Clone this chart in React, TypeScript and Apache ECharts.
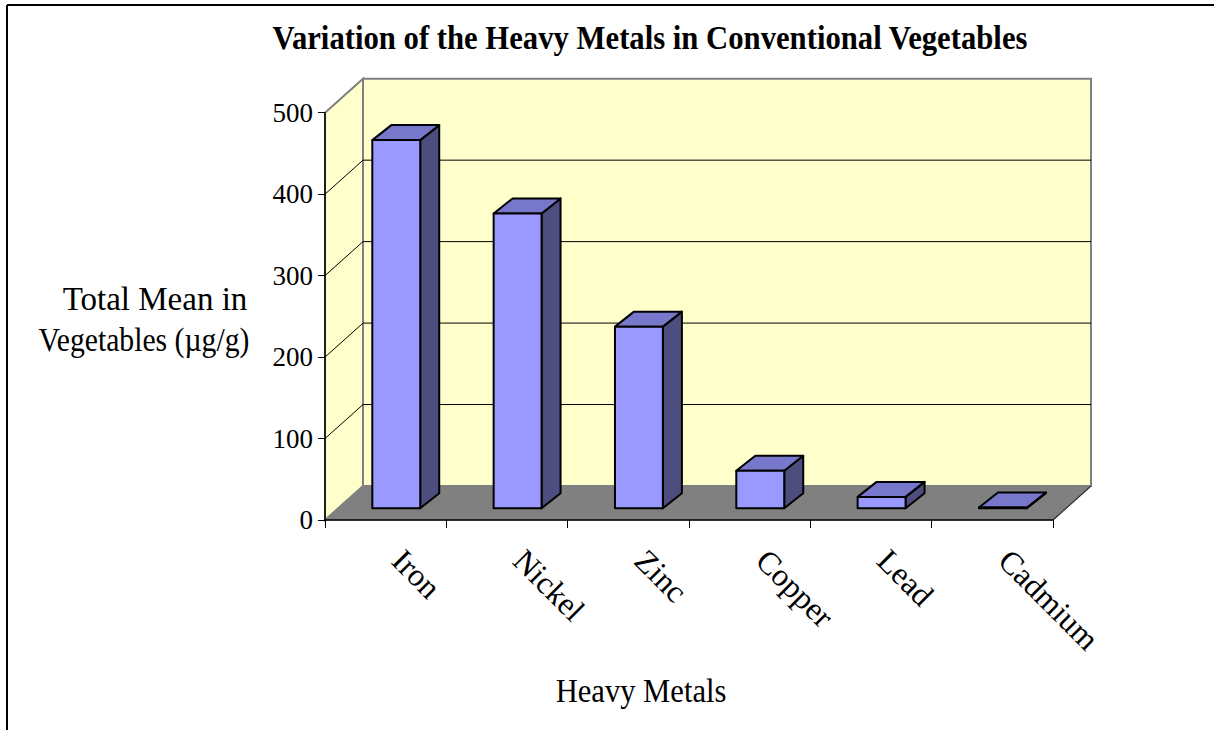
import React, { useEffect, useRef } from "react";
import * as echarts from "echarts";

const TITLE = "Variation of the Heavy Metals in Conventional Vegetables";
const Y_TITLE_1 = "Total Mean in";
const Y_TITLE_2 = "Vegetables (µg/g)";
const X_TITLE = "Heavy Metals";

const categories = ["Iron", "Nickel", "Zinc", "Copper", "Lead", "Cadmium"];
const values = [452, 362, 223, 46, 14, 1];
const yMin = 0;
const yMax = 500;
const yInterval = 100;
const gridValues = [100, 200, 300, 400];

// 3D styling constants (pixels)
const DEPTH = [38, -34];
const FRONT_OFFSET = [10.6, -11.7];
const BAR_DEPTH = [19, -15];
const BAR_WIDTH_RATIO = 0.395;

const FONT = "'Liberation Serif', 'Times New Roman', serif";

export default function App() {
  const ref = useRef<HTMLDivElement>(null);
  useEffect(() => {
    if (!ref.current) return;
    const chart = echarts.init(ref.current, null, { renderer: "svg" });

    const wallsRender = (params: any, api: any) => {
      const cs = params.coordSys;
      const left = cs.x;
      const right = cs.x + cs.width;
      const top = cs.y;
      const bottom = cs.y + cs.height;
      const dx = DEPTH[0];
      const dy = DEPTH[1];
      const children: any[] = [];
      children.push({
        type: "rect",
        shape: { x: left + dx, y: top + dy, width: right - left, height: bottom - top },
        style: { fill: "#FFFFCC", stroke: "#808080", lineWidth: 2 },
      });
      children.push({
        type: "polygon",
        shape: {
          points: [
            [left, top],
            [left + dx, top + dy],
            [left + dx, bottom + dy],
            [left, bottom],
          ],
        },
        style: { fill: "#FFFFCC", stroke: "#808080", lineWidth: 2 },
      });
      gridValues.forEach((v) => {
        const y = api.coord([0, v])[1];
        children.push({
          type: "polyline",
          shape: { points: [[left, y], [left + dx, y + dy], [right + dx, y + dy]] },
          style: { stroke: "#000", lineWidth: 1, fill: null },
        });
      });
      children.push({
        type: "polygon",
        shape: {
          points: [
            [left, bottom],
            [right, bottom],
            [right + dx, bottom + dy],
            [left + dx, bottom + dy],
          ],
        },
        style: { fill: "#808080", stroke: "#808080", lineWidth: 1 },
      });
      children.push({
        type: "line",
        shape: { x1: right, y1: bottom, x2: right + dx, y2: bottom + dy },
        style: { stroke: "#333", lineWidth: 1.2 },
      });
      return { type: "group", children };
    };

    const barRender = (params: any, api: any) => {
      const i = api.value(0);
      const v = api.value(1);
      const topPt = api.coord([i, v]);
      const basePt = api.coord([i, 0]);
      const cw = api.size([1, 0])[0];
      const w = cw * BAR_WIDTH_RATIO;
      const bx = BAR_DEPTH[0];
      const by = BAR_DEPTH[1];
      const x0 = topPt[0] - w / 2 + FRONT_OFFSET[0];
      const x1 = x0 + w;
      const yT = topPt[1] + FRONT_OFFSET[1];
      const yB = basePt[1] + FRONT_OFFSET[1];
      const stroke = { stroke: "#000", lineWidth: 2, lineJoin: "round" };
      return {
        type: "group",
        children: [
          {
            type: "polygon",
            shape: { points: [[x1, yT], [x1 + bx, yT + by], [x1 + bx, yB + by], [x1, yB]] },
            style: { fill: "#4D4D80", ...stroke },
          },
          {
            type: "polygon",
            shape: { points: [[x0, yT], [x1, yT], [x1 + bx, yT + by], [x0 + bx, yT + by]] },
            style: { fill: "#7777CC", ...stroke },
          },
          {
            type: "rect",
            shape: { x: x0, y: yT, width: w, height: Math.max(yB - yT, 0) },
            style: { fill: "#9999FF", ...stroke },
          },
        ],
      };
    };

    chart.setOption({
      animation: false,
      backgroundColor: "#fff",
      grid: { left: 325, right: 161, top: 112.7, bottom: 210 },
      xAxis: {
        type: "category",
        data: categories,
        boundaryGap: true,
        z: 10,
        axisLine: { show: true, lineStyle: { color: "#000", width: 1.5 } },
        axisTick: { show: true, length: 8, lineStyle: { color: "#000", width: 1 } },
        axisLabel: {
          rotate: -45,
          margin: 23,
          fontFamily: FONT,
          fontSize: 32,
          color: "#000",
          interval: 0,
          padding: [0, 0, 0, 17],
        },
        splitLine: { show: false },
      },
      yAxis: {
        type: "value",
        min: yMin,
        max: yMax,
        interval: yInterval,
        z: 10,
        axisLine: { show: true, lineStyle: { color: "#000", width: 1.5 } },
        axisTick: { show: true, length: 7, lineStyle: { color: "#000", width: 1 } },
        axisLabel: { fontFamily: FONT, fontSize: 27, color: "#000", margin: 12 },
        splitLine: { show: false },
      },
      graphic: [
        { type: "line", shape: { x1: 7, y1: 5, x2: 7, y2: 730 }, style: { stroke: "#000", lineWidth: 2 } },
        { type: "line", shape: { x1: 7, y1: 5, x2: 1214, y2: 5 }, style: { stroke: "#000", lineWidth: 2 } },
        {
          type: "text",
          x: 650,
          y: 38,
          scaleX: 0.93,
          style: { text: TITLE, font: `bold 33px ${FONT}`, fill: "#000", align: "center", verticalAlign: "middle" },
        },
        {
          type: "text",
          x: 155,
          y: 299,
          style: { text: Y_TITLE_1, font: `33px ${FONT}`, fill: "#000", align: "center", verticalAlign: "middle" },
        },
        {
          type: "text",
          x: 144,
          y: 340,
          scaleX: 0.9,
          style: { text: Y_TITLE_2, font: `33px ${FONT}`, fill: "#000", align: "center", verticalAlign: "middle" },
        },
        {
          type: "text",
          x: 641,
          y: 690,
          scaleX: 0.9,
          style: { text: X_TITLE, font: `34px ${FONT}`, fill: "#000", align: "center", verticalAlign: "middle" },
        },
      ],
      series: [
        {
          type: "custom",
          silent: true,
          z: 1,
          renderItem: wallsRender,
          data: [[0, 0]],
          encode: { x: 0, y: 1 },
        },
        {
          type: "custom",
          z: 2,
          renderItem: barRender,
          data: values.map((v, i) => [i, v]),
          encode: { x: 0, y: 1 },
        },
      ],
    });
    return () => chart.dispose();
  }, []);
  return (
    <div
      ref={ref}
      style={{ position: "fixed", left: 0, top: 0, width: 1214, height: 730 }}
    />
  );
}
